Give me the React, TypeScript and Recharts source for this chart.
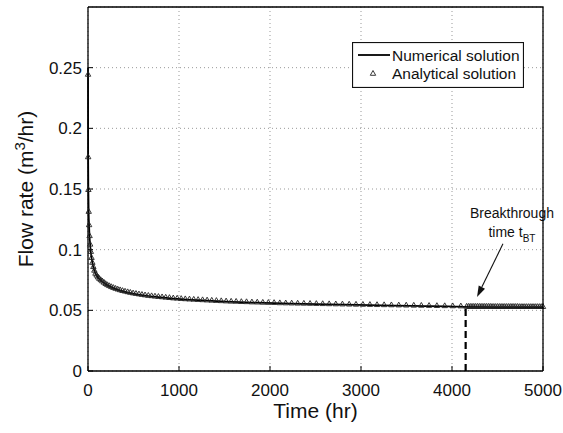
import { ComposedChart, Line, Scatter, XAxis, YAxis, CartesianGrid, ReferenceLine, Legend, Label } from 'recharts'

const FONT = '"Liberation Sans", Arial, Helvetica, sans-serif'

const timeTicks = [0, 1000, 2000, 3000, 4000, 5000]
const flowTicks = [0, 0.05, 0.1, 0.15, 0.2, 0.25]
const timeMax = 5000
const flowMax = 0.3

// numerical solution (solid line)
const numTime = [0, 0.5, 1.9, 4.4, 7.7, 12.1, 17.4, 23.7, 31, 48, 70, 95, 124, 157, 194, 279, 379, 496, 627, 774, 937, 1210, 1518, 1860, 2238, 2650, 3098, 3580, 4097, 4150, 4600, 5000]
const numFlow = [0.25, 0.244, 0.176, 0.149, 0.131, 0.12, 0.111, 0.104, 0.098, 0.089, 0.0825, 0.0785, 0.0758, 0.0737, 0.0715, 0.0683, 0.0658, 0.0638, 0.0622, 0.0609, 0.0597, 0.0584, 0.0572, 0.0563, 0.0555, 0.0549, 0.0543, 0.0537, 0.0531, 0.0528, 0.0527, 0.0526]

// analytical solution (triangles) before breakthrough
const anaTime = [
  0.5, 1.9, 4.4, 7.7, 12.1, 17.4, 23.7, 31, 39, 48,
  59, 70, 82, 95, 109, 124, 140, 157, 175, 194,
  213, 234, 256, 279, 303, 327, 353, 379, 407, 436,
  465, 496, 527, 560, 593, 627, 663, 699, 736, 774,
  814, 854, 895, 937, 980, 1024, 1069, 1115, 1162, 1210,
  1259, 1309, 1360, 1411, 1464, 1518, 1573, 1628, 1685, 1742,
  1801, 1860, 1921, 1982, 2045, 2108, 2173, 2238, 2304, 2372,
  2440, 2509, 2579, 2650, 2723, 2796, 2870, 2945, 3021, 3098,
  3176, 3254, 3334, 3415, 3497, 3580, 3663, 3748, 3834, 3920,
  4008, 4097,
]
const anaFlow = [
  0.244, 0.176, 0.149, 0.131, 0.12, 0.111, 0.104, 0.098, 0.093, 0.089,
  0.0855, 0.0825, 0.08, 0.0785, 0.077, 0.0758, 0.0747, 0.0737, 0.0726, 0.0715,
  0.0706, 0.0698, 0.069, 0.0683, 0.0676, 0.067, 0.0664, 0.0658, 0.0653, 0.0648,
  0.0643, 0.0638, 0.0634, 0.063, 0.0626, 0.0622, 0.0618, 0.0615, 0.0612, 0.0609,
  0.0606, 0.0603, 0.06, 0.0597, 0.0595, 0.0592, 0.059, 0.0588, 0.0586, 0.0584,
  0.0582, 0.058, 0.0578, 0.0576, 0.0574, 0.0572, 0.057, 0.0569, 0.0567, 0.0566,
  0.0564, 0.0563, 0.0561, 0.056, 0.0559, 0.0557, 0.0556, 0.0555, 0.0554, 0.0553,
  0.0552, 0.0551, 0.055, 0.0549, 0.0548, 0.0547, 0.0546, 0.0545, 0.0544, 0.0543,
  0.0542, 0.0541, 0.054, 0.0539, 0.0538, 0.0537, 0.0536, 0.0535, 0.0534, 0.0533,
  0.0532, 0.0531,
]

// analytical solution after breakthrough (dense)
const lateTime = [
  4160, 4180, 4200, 4220, 4240, 4260, 4280, 4300, 4320, 4340, 4360, 4380, 4400, 4420,
  4440, 4460, 4480, 4500, 4520, 4540, 4560, 4580, 4600, 4620, 4640, 4660, 4680, 4700, 4720,
  4740, 4760, 4780, 4800, 4820, 4840, 4860, 4880, 4900, 4920, 4940, 4960, 4980, 5000,
]
const lateFlow = [
  0.0528, 0.0528, 0.0528, 0.0528, 0.0528, 0.0528, 0.0528, 0.0528, 0.0528, 0.0528, 0.0528, 0.0528, 0.0528, 0.0528,
  0.0527, 0.0527, 0.0527, 0.0527, 0.0527, 0.0527, 0.0527, 0.0527, 0.0527, 0.0527, 0.0527, 0.0527, 0.0527, 0.0527, 0.0527,
  0.0526, 0.0526, 0.0526, 0.0526, 0.0526, 0.0526, 0.0526, 0.0526, 0.0526, 0.0526, 0.0526, 0.0526, 0.0526, 0.0526,
]

const btTime = 4150
const btFlow = 0.0527
// annotation arrow, tail under the text -> head near breakthrough point
const arrowTail = { t: 4560, q: 0.1048 }
const arrowHead = { t: 4275, q: 0.061 }

const zip = (ts: number[], qs: number[]) => ts.map((t, i) => ({ t, q: qs[i] }))
const numData = zip(numTime, numFlow)
const anaData = [...zip(anaTime, anaFlow), ...zip(lateTime, lateFlow)]

// chart box layout
const W = 563
const H = 433
const M_TOP = 7
const M_RIGHT = 20
const Y_AXIS_W = 88
const X_AXIS_H = 62

function Tri(props: any) {
  const { cx, cy } = props
  if (cx == null || cy == null) return null
  return (
    <path
      d={`M${cx},${cy - 3.5} L${cx + 2.7},${cy + 1.3} L${cx - 2.7},${cy + 1.3} Z`}
      fill="none"
      stroke="#222"
      strokeWidth={0.9}
    />
  )
}

function Arrow(props: any) {
  const { x1, y1, x2, y2 } = props
  const dx = x2 - x1
  const dy = y2 - y1
  const len = Math.sqrt(dx * dx + dy * dy)
  const ux = dx / len
  const uy = dy / len
  const hl = 11
  const hw = 3.5
  const bx = x2 - ux * hl
  const by = y2 - uy * hl
  return (
    <g fontFamily={FONT} fontSize={14} fill="#111">
      <line x1={x1} y1={y1} x2={bx} y2={by} stroke="#111" strokeWidth={1.1} />
      <polygon
        points={`${x2},${y2} ${bx - uy * hw},${by + ux * hw} ${bx + uy * hw},${by - ux * hw}`}
        fill="#111"
      />
      <text x={x1 + 9} y={y1 - 26} textAnchor="middle">Breakthrough</text>
      <text x={x1 + 9} y={y1 - 7} textAnchor="middle">
        time t<tspan fontSize={10} dy={5}>BT</tspan>
      </text>
    </g>
  )
}

function LegendBox() {
  return (
    <svg width={172} height={46} style={{ display: 'block' }}>
      <rect x={0.5} y={0.5} width={171} height={45} fill="#fff" stroke="#111" strokeWidth={1.2} />
      <line x1={6} x2={38} y1={13} y2={13} stroke="#000" strokeWidth={1.8} />
      <text x={40} y={18.5} fontFamily={FONT} fontSize={15.5} fill="#111">Numerical solution</text>
      <Tri cx={21} cy={32} />
      <text x={40} y={36.5} fontFamily={FONT} fontSize={15.5} fill="#111">Analytical solution</text>
    </svg>
  )
}

function YTitle(props: any) {
  const vb = props.viewBox || { y: M_TOP, height: H - M_TOP - X_AXIS_H }
  const cy = vb.y + vb.height / 2
  return (
    <text
      x={33}
      y={cy}
      transform={`rotate(-90, 33, ${cy})`}
      textAnchor="middle"
      fontFamily={FONT}
      fontSize={21}
      fill="#111"
    >
      Flow rate (m<tspan fontSize={15} dy={-8}>3</tspan><tspan dy={8}>/hr)</tspan>
    </text>
  )
}

function XTitle(props: any) {
  const vb = props.viewBox || { x: Y_AXIS_W, width: W - Y_AXIS_W - M_RIGHT }
  return (
    <text x={vb.x + vb.width / 2} y={418} textAnchor="middle" fontFamily={FONT} fontSize={21} fill="#111">
      Time (hr)
    </text>
  )
}

const axisLine = { stroke: '#000', strokeWidth: 1.3 }

export default function App() {
  const right = W - M_RIGHT
  const bottom = H - X_AXIS_H
  return (
    <div style={{ position: 'absolute', left: 0, top: 0, width: W, height: H, background: '#fff' }}>
      <ComposedChart width={W} height={H} margin={{ top: M_TOP, right: M_RIGHT, left: 0, bottom: 0 }}>
        <CartesianGrid stroke="#999" strokeDasharray="1 3" />
        <XAxis
          dataKey="t"
          type="number"
          domain={[0, timeMax]}
          ticks={timeTicks}
          height={X_AXIS_H}
          tickSize={-5}
          tickMargin={18}
          axisLine={axisLine}
          tickLine={{ stroke: '#000' }}
          tick={{ fill: '#111', fontSize: 17, fontFamily: FONT }}
          label={<Label content={XTitle} />}
        />
        <YAxis
          type="number"
          domain={[0, flowMax]}
          ticks={flowTicks}
          width={Y_AXIS_W}
          tickSize={-5}
          tickMargin={11}
          axisLine={axisLine}
          tickLine={{ stroke: '#000' }}
          tick={{ fill: '#111', fontSize: 17, fontFamily: FONT }}
          tickFormatter={(v: number) => String(v)}
          label={<Label content={YTitle} />}
        />
        <Line data={numData} dataKey="q" type="monotone" stroke="#000" strokeWidth={1.7} dot={false} isAnimationActive={false} />
        <Scatter data={anaData} dataKey="q" shape={<Tri />} isAnimationActive={false} />
        <ReferenceLine
          segment={[{ x: btTime, y: 0 }, { x: btTime, y: btFlow }]}
          stroke="#000"
          strokeWidth={2.2}
          strokeDasharray="7 4"
        />
        <ReferenceLine
          segment={[{ x: arrowTail.t, y: arrowTail.q }, { x: arrowHead.t, y: arrowHead.q }]}
          shape={Arrow}
        />
        <Legend
          layout="horizontal"
          verticalAlign="middle"
          align="center"
          wrapperStyle={{ left: 352, top: 42, width: 172, height: 46 }}
          content={() => <LegendBox />}
        />
      </ComposedChart>
      {/* top and right edges of the axes box */}
      <svg width={W} height={H} style={{ position: 'absolute', left: 0, top: 0, pointerEvents: 'none' }}>
        <path d={`M${Y_AXIS_W},${M_TOP} H${right} V${bottom}`} fill="none" stroke="#000" strokeWidth={1.3} />
      </svg>
    </div>
  )
}
